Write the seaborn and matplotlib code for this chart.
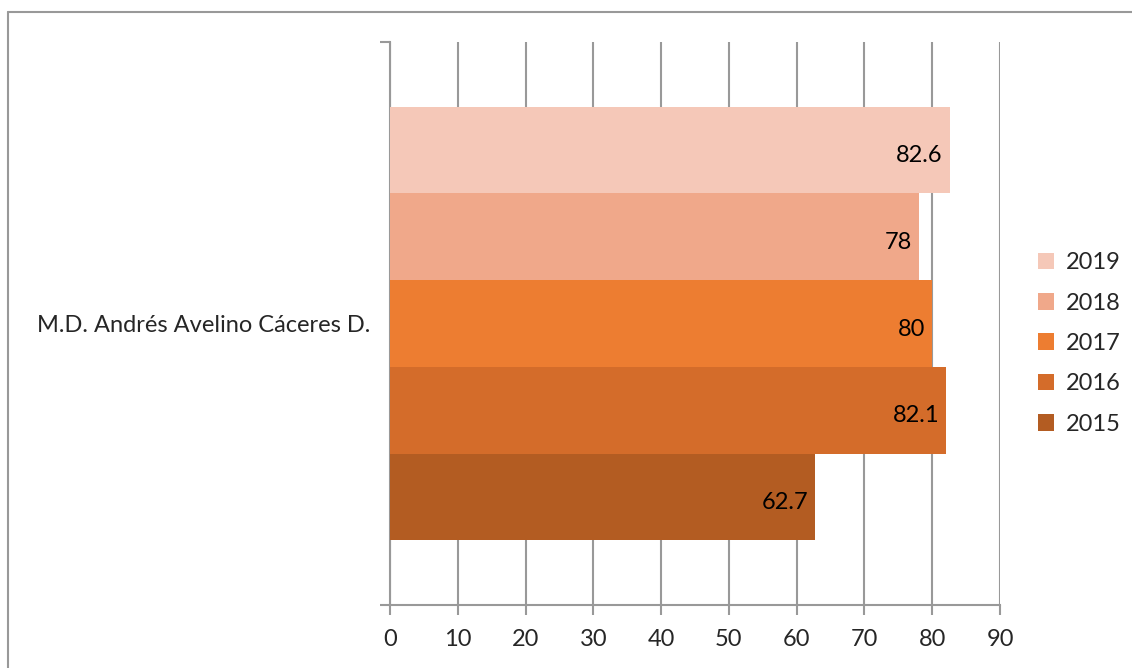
import pandas as pd
import numpy as np
import matplotlib.pyplot as plt
import seaborn as sns
from matplotlib.lines import Line2D

# data
district = ["M.D. Andrés Avelino Cáceres D."]
years = ["2019", "2018", "2017", "2016", "2015"]
values = [82.6, 78, 80, 82.1, 62.7]
colors = ["#F5C8B8", "#F0A88A", "#ED7D31", "#D46C2A", "#B35C22"]
x_ticks = [0, 10, 20, 30, 40, 50, 60, 70, 80, 90]

df = pd.DataFrame({"distrito": district * len(years), "anio": years, "valor": values})

sns.set_style("white")
plt.rcParams["font.family"] = ["Lato", "DejaVu Sans"]
FS = 17

fig = plt.figure(figsize=(11.32, 6.68), dpi=100)
ax = fig.add_axes([390 / 1132, 1 - 605 / 668, 610 / 1132, 563 / 668])

sns.barplot(data=df, x="valor", y="distrito", hue="anio", hue_order=years,
            palette=colors, orient="h", width=0.77, saturation=1,
            edgecolor="none", linewidth=0, ax=ax, zorder=3)

# value labels inside the bar ends
for cont in ax.containers:
    for p in cont.patches:
        ax.annotate("{:g}".format(p.get_width()),
                    xy=(p.get_x() + p.get_width(), p.get_y() + p.get_height() / 2),
                    xytext=(-5, -4), textcoords="offset points",
                    ha="right", va="center", fontsize=FS, color="black", zorder=4)

ax.set_xlim(0, 90)
ax.set_ylim(0.5, -0.5)
ax.set_xticks(x_ticks)
ax.set_xticklabels([str(t) for t in x_ticks], fontsize=FS)
ax.set_yticks([0])
ax.set_yticklabels(district, fontsize=FS)
ax.set_yticks([-0.5, 0.5], minor=True)
ax.tick_params(axis="y", which="major", length=0, pad=14)
ax.tick_params(axis="y", which="minor", length=7, width=1.5, color="#999999", left=True)
ax.tick_params(axis="x", length=7, width=1.5, color="#999999", bottom=True, pad=10)
ax.set_xlabel("")
ax.set_ylabel("")

ax.grid(axis="x", color="#999999", linewidth=1.5, zorder=0)
ax.set_axisbelow(True)
for side in ["top", "right"]:
    ax.spines[side].set_visible(False)
for side in ["left", "bottom"]:
    ax.spines[side].set_color("#999999")
    ax.spines[side].set_linewidth(1.5)

leg = ax.legend(loc="center left", bbox_to_anchor=(1.027, 0.4645), frameon=False,
                fontsize=FS, handlelength=0.7, handleheight=0.7,
                handletextpad=0.5, labelspacing=0.82)

# outer chart border (top and left visible in the reference)
fig.add_artist(Line2D([8 / 1132, 8 / 1132], [0, 1 - 12 / 668], transform=fig.transFigure,
                      color="#999999", linewidth=1.5))
fig.add_artist(Line2D([8 / 1132, 1], [1 - 12 / 668, 1 - 12 / 668], transform=fig.transFigure,
                      color="#999999", linewidth=1.5))

fig.savefig("out.png", dpi=100)
